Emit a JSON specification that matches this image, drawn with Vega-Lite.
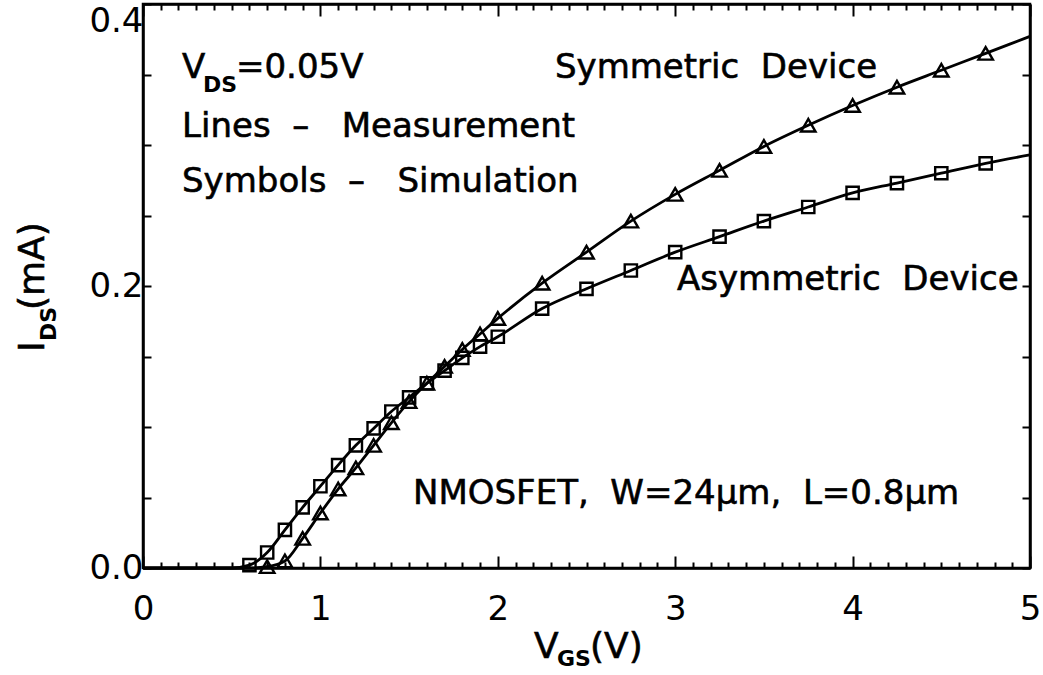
{
  "$schema": "https://vega.github.io/schema/vega-lite/v6.json",
  "width": 887,
  "height": 564,
  "autosize": {"type": "none"},
  "padding": {"left": 143, "top": 4, "right": 13, "bottom": 107},
  "background": "white",
  "config": {
    "view": {"stroke": "black", "strokeWidth": 2.5},
    "font": "DejaVu Sans",
    "text": {"font": "DejaVu Sans", "color": "black"}
  },
  "datasets": {
    "meas": [
      {"device": "Symmetric", "vgs": 0, "ids": 0},
      {"device": "Symmetric", "vgs": 0.5, "ids": 0},
      {"device": "Symmetric", "vgs": 0.6, "ids": 0},
      {"device": "Symmetric", "vgs": 0.7, "ids": 0.001},
      {"device": "Symmetric", "vgs": 0.8, "ids": 0.005},
      {"device": "Symmetric", "vgs": 0.9, "ids": 0.021},
      {"device": "Symmetric", "vgs": 1.0, "ids": 0.039},
      {"device": "Symmetric", "vgs": 1.1, "ids": 0.056},
      {"device": "Symmetric", "vgs": 1.2, "ids": 0.071},
      {"device": "Symmetric", "vgs": 1.3, "ids": 0.087},
      {"device": "Symmetric", "vgs": 1.4, "ids": 0.103},
      {"device": "Symmetric", "vgs": 1.5, "ids": 0.118},
      {"device": "Symmetric", "vgs": 1.6, "ids": 0.131},
      {"device": "Symmetric", "vgs": 1.7, "ids": 0.143},
      {"device": "Symmetric", "vgs": 1.8, "ids": 0.155},
      {"device": "Symmetric", "vgs": 1.9, "ids": 0.166},
      {"device": "Symmetric", "vgs": 2.0, "ids": 0.177},
      {"device": "Symmetric", "vgs": 2.25, "ids": 0.202},
      {"device": "Symmetric", "vgs": 2.5, "ids": 0.224},
      {"device": "Symmetric", "vgs": 2.75, "ids": 0.246},
      {"device": "Symmetric", "vgs": 3.0, "ids": 0.265},
      {"device": "Symmetric", "vgs": 3.25, "ids": 0.282},
      {"device": "Symmetric", "vgs": 3.5, "ids": 0.299},
      {"device": "Symmetric", "vgs": 3.75, "ids": 0.314},
      {"device": "Symmetric", "vgs": 4.0, "ids": 0.328},
      {"device": "Symmetric", "vgs": 4.25, "ids": 0.341},
      {"device": "Symmetric", "vgs": 4.5, "ids": 0.353},
      {"device": "Symmetric", "vgs": 4.75, "ids": 0.365},
      {"device": "Symmetric", "vgs": 5.0, "ids": 0.377},
      {"device": "Asymmetric", "vgs": 0, "ids": 0},
      {"device": "Asymmetric", "vgs": 0.5, "ids": 0},
      {"device": "Asymmetric", "vgs": 0.6, "ids": 0.002},
      {"device": "Asymmetric", "vgs": 0.7, "ids": 0.011},
      {"device": "Asymmetric", "vgs": 0.8, "ids": 0.027},
      {"device": "Asymmetric", "vgs": 0.9, "ids": 0.043},
      {"device": "Asymmetric", "vgs": 1.0, "ids": 0.058},
      {"device": "Asymmetric", "vgs": 1.1, "ids": 0.073},
      {"device": "Asymmetric", "vgs": 1.2, "ids": 0.087},
      {"device": "Asymmetric", "vgs": 1.3, "ids": 0.099},
      {"device": "Asymmetric", "vgs": 1.4, "ids": 0.111},
      {"device": "Asymmetric", "vgs": 1.5, "ids": 0.121},
      {"device": "Asymmetric", "vgs": 1.6, "ids": 0.131},
      {"device": "Asymmetric", "vgs": 1.7, "ids": 0.140},
      {"device": "Asymmetric", "vgs": 1.8, "ids": 0.149},
      {"device": "Asymmetric", "vgs": 1.9, "ids": 0.157},
      {"device": "Asymmetric", "vgs": 2.0, "ids": 0.164},
      {"device": "Asymmetric", "vgs": 2.25, "ids": 0.184},
      {"device": "Asymmetric", "vgs": 2.5, "ids": 0.198},
      {"device": "Asymmetric", "vgs": 2.75, "ids": 0.211},
      {"device": "Asymmetric", "vgs": 3.0, "ids": 0.224},
      {"device": "Asymmetric", "vgs": 3.25, "ids": 0.235},
      {"device": "Asymmetric", "vgs": 3.5, "ids": 0.246},
      {"device": "Asymmetric", "vgs": 3.75, "ids": 0.256},
      {"device": "Asymmetric", "vgs": 4.0, "ids": 0.266},
      {"device": "Asymmetric", "vgs": 4.25, "ids": 0.273},
      {"device": "Asymmetric", "vgs": 4.5, "ids": 0.280},
      {"device": "Asymmetric", "vgs": 4.75, "ids": 0.287},
      {"device": "Asymmetric", "vgs": 5.0, "ids": 0.293}
    ],
    "sim": [
      {"device": "Symmetric", "vgs": 0.7, "ids": 0.001},
      {"device": "Symmetric", "vgs": 0.8, "ids": 0.005},
      {"device": "Symmetric", "vgs": 0.9, "ids": 0.021},
      {"device": "Symmetric", "vgs": 1.0, "ids": 0.039},
      {"device": "Symmetric", "vgs": 1.1, "ids": 0.056},
      {"device": "Symmetric", "vgs": 1.2, "ids": 0.071},
      {"device": "Symmetric", "vgs": 1.3, "ids": 0.087},
      {"device": "Symmetric", "vgs": 1.4, "ids": 0.103},
      {"device": "Symmetric", "vgs": 1.5, "ids": 0.118},
      {"device": "Symmetric", "vgs": 1.6, "ids": 0.131},
      {"device": "Symmetric", "vgs": 1.7, "ids": 0.143},
      {"device": "Symmetric", "vgs": 1.8, "ids": 0.155},
      {"device": "Symmetric", "vgs": 1.9, "ids": 0.166},
      {"device": "Symmetric", "vgs": 2.0, "ids": 0.177},
      {"device": "Symmetric", "vgs": 2.25, "ids": 0.202},
      {"device": "Symmetric", "vgs": 2.5, "ids": 0.224},
      {"device": "Symmetric", "vgs": 2.75, "ids": 0.246},
      {"device": "Symmetric", "vgs": 3.0, "ids": 0.265},
      {"device": "Symmetric", "vgs": 3.25, "ids": 0.282},
      {"device": "Symmetric", "vgs": 3.5, "ids": 0.299},
      {"device": "Symmetric", "vgs": 3.75, "ids": 0.314},
      {"device": "Symmetric", "vgs": 4.0, "ids": 0.328},
      {"device": "Symmetric", "vgs": 4.25, "ids": 0.341},
      {"device": "Symmetric", "vgs": 4.5, "ids": 0.353},
      {"device": "Symmetric", "vgs": 4.75, "ids": 0.365},
      {"device": "Asymmetric", "vgs": 0.6, "ids": 0.002},
      {"device": "Asymmetric", "vgs": 0.7, "ids": 0.011},
      {"device": "Asymmetric", "vgs": 0.8, "ids": 0.027},
      {"device": "Asymmetric", "vgs": 0.9, "ids": 0.043},
      {"device": "Asymmetric", "vgs": 1.0, "ids": 0.058},
      {"device": "Asymmetric", "vgs": 1.1, "ids": 0.073},
      {"device": "Asymmetric", "vgs": 1.2, "ids": 0.087},
      {"device": "Asymmetric", "vgs": 1.3, "ids": 0.099},
      {"device": "Asymmetric", "vgs": 1.4, "ids": 0.111},
      {"device": "Asymmetric", "vgs": 1.5, "ids": 0.121},
      {"device": "Asymmetric", "vgs": 1.6, "ids": 0.131},
      {"device": "Asymmetric", "vgs": 1.7, "ids": 0.140},
      {"device": "Asymmetric", "vgs": 1.8, "ids": 0.149},
      {"device": "Asymmetric", "vgs": 1.9, "ids": 0.157},
      {"device": "Asymmetric", "vgs": 2.0, "ids": 0.164},
      {"device": "Asymmetric", "vgs": 2.25, "ids": 0.184},
      {"device": "Asymmetric", "vgs": 2.5, "ids": 0.198},
      {"device": "Asymmetric", "vgs": 2.75, "ids": 0.211},
      {"device": "Asymmetric", "vgs": 3.0, "ids": 0.224},
      {"device": "Asymmetric", "vgs": 3.25, "ids": 0.235},
      {"device": "Asymmetric", "vgs": 3.5, "ids": 0.246},
      {"device": "Asymmetric", "vgs": 3.75, "ids": 0.256},
      {"device": "Asymmetric", "vgs": 4.0, "ids": 0.266},
      {"device": "Asymmetric", "vgs": 4.25, "ids": 0.273},
      {"device": "Asymmetric", "vgs": 4.5, "ids": 0.280},
      {"device": "Asymmetric", "vgs": 4.75, "ids": 0.287}
    ],
    "notes": [
      {"x": 0.220, "y": 0.3475, "t": "V"},
      {"x": 0.524, "y": 0.3475, "t": "=0.05V"},
      {"x": 0.220, "y": 0.3057, "t": "Lines\u00a0\u00a0–\u00a0\u00a0\u00a0Measurement"},
      {"x": 0.220, "y": 0.2667, "t": "Symbols\u00a0\u00a0–\u00a0\u00a0\u00a0Simulation"},
      {"x": 2.322, "y": 0.3475, "t": "Symmetric\u00a0\u00a0Device"},
      {"x": 3.010, "y": 0.197, "t": "Asymmetric\u00a0\u00a0Device"},
      {"x": 1.522, "y": 0.0454, "t": "NMOSFET,\u00a0 W=24μm,\u00a0 L=0.8μm"}
    ],
    "subs": [
      {"x": 0.338, "y": 0.3376, "t": "DS"}
    ],
    "xtitle": [
      {"x": 2.204, "y": -0.0638, "t": "V"},
      {"x": 2.520, "y": -0.0638, "t": "(V)"}
    ],
    "xtitlesub": [
      {"x": 2.334, "y": -0.0695, "t": "GS"}
    ],
    "ytitle": [
      {"x": -0.558, "y": 0.1532, "t": "I"},
      {"x": -0.558, "y": 0.183, "t": "(mA)"}
    ],
    "ytitlesub": [
      {"x": -0.490, "y": 0.161, "t": "DS"}
    ]
  },
  "layer": [
    {
      "data": {"name": "meas"},
      "mark": {"type": "line", "color": "black", "strokeWidth": 2.8, "interpolate": "monotone"},
      "encoding": {
        "x": {
          "field": "vgs", "type": "quantitative",
          "scale": {"domain": [0, 5], "nice": false, "zero": false},
          "axis": {
            "orient": "bottom", "title": null, "grid": false,
            "values": [0,0.1,0.2,0.3,0.4,0.5,0.6,0.7,0.8,0.9,1,1.1,1.2,1.3,1.4,1.5,1.6,1.7,1.8,1.9,2,2.1,2.2,2.3,2.4,2.5,2.6,2.7,2.8,2.9,3,3.1,3.2,3.3,3.4,3.5,3.6,3.7,3.8,3.9,4,4.1,4.2,4.3,4.4,4.5,4.6,4.7,4.8,4.9,5],
            "labelExpr": "datum.value % 1 === 0 ? format(datum.value, 'd') : ''",
            "labelOverlap": false, "labelFlush": false,
            "labelFont": "DejaVu Sans", "labelFontSize": 34, "labelColor": "black",
            "labelPadding": 36,
            "tickSize": {"condition": {"test": "datum.value % 1 === 0", "value": -12}, "value": -6},
            "tickColor": "black", "tickWidth": 2,
            "domainColor": "black", "domainWidth": 2.5
          }
        },
        "y": {
          "field": "ids", "type": "quantitative",
          "scale": {"domain": [0, 0.4], "nice": false, "zero": false},
          "axis": {
            "orient": "left", "title": null, "grid": false,
            "values": [0,0.05,0.1,0.15,0.2,0.25,0.3,0.35,0.4],
            "labelExpr": "(datum.value === 0 || datum.value === 0.2 || datum.value === 0.4) ? format(datum.value, '.1f') : ''",
            "labelOverlap": false, "labelFlush": false,
            "labelFont": "DejaVu Sans", "labelFontSize": 34, "labelColor": "black",
            "labelPadding": 8,
            "labelBaseline": {"condition": {"test": "datum.value === 0.4", "value": "top"}, "value": "middle"},
            "tickSize": -8,
            "tickColor": "black", "tickWidth": 2,
            "domainColor": "black", "domainWidth": 2.5
          }
        },
        "detail": {"field": "device"}
      }
    },
    {
      "data": {"name": "sim"},
      "mark": {"type": "point", "filled": false, "stroke": "black", "strokeWidth": 2.4, "opacity": 1},
      "encoding": {
        "x": {
          "field": "vgs", "type": "quantitative",
          "scale": {"domain": [0, 5], "nice": false, "zero": false},
          "axis": {
            "orient": "top", "title": null, "grid": false, "labels": false,
            "values": [0,0.1,0.2,0.3,0.4,0.5,0.6,0.7,0.8,0.9,1,1.1,1.2,1.3,1.4,1.5,1.6,1.7,1.8,1.9,2,2.1,2.2,2.3,2.4,2.5,2.6,2.7,2.8,2.9,3,3.1,3.2,3.3,3.4,3.5,3.6,3.7,3.8,3.9,4,4.1,4.2,4.3,4.4,4.5,4.6,4.7,4.8,4.9,5],
            "tickSize": {"condition": {"test": "datum.value % 1 === 0", "value": -12}, "value": -6},
            "tickColor": "black", "tickWidth": 2,
            "domainColor": "black", "domainWidth": 2.5
          }
        },
        "y": {
          "field": "ids", "type": "quantitative",
          "scale": {"domain": [0, 0.4], "nice": false, "zero": false},
          "axis": {
            "orient": "right", "title": null, "grid": false, "labels": false,
            "values": [0,0.05,0.1,0.15,0.2,0.25,0.3,0.35,0.4],
            "tickSize": -8,
            "tickColor": "black", "tickWidth": 2,
            "domainColor": "black", "domainWidth": 2.5
          }
        },
        "shape": {
          "field": "device", "type": "nominal",
          "scale": {"domain": ["Symmetric", "Asymmetric"], "range": ["triangle-up", "square"]},
          "legend": null
        },
        "size": {
          "field": "device", "type": "nominal",
          "scale": {"domain": ["Symmetric", "Asymmetric"], "range": [210, 150]},
          "legend": null
        }
      }
    },
    {
      "data": {"name": "notes"},
      "mark": {"type": "text", "fontSize": 34, "align": "left", "baseline": "alphabetic", "font": "DejaVu Sans", "stroke": "black", "strokeWidth": 0.6},
      "encoding": {
        "x": {"field": "x", "type": "quantitative", "scale": {"domain": [0, 5], "nice": false, "zero": false}, "axis": null},
        "y": {"field": "y", "type": "quantitative", "scale": {"domain": [0, 0.4], "nice": false, "zero": false}, "axis": null},
        "text": {"field": "t"}
      }
    },
    {
      "data": {"name": "subs"},
      "mark": {"type": "text", "fontSize": 22, "align": "left", "baseline": "alphabetic", "font": "DejaVu Sans", "fontWeight": "bold"},
      "encoding": {
        "x": {"field": "x", "type": "quantitative", "scale": {"domain": [0, 5], "nice": false, "zero": false}, "axis": null},
        "y": {"field": "y", "type": "quantitative", "scale": {"domain": [0, 0.4], "nice": false, "zero": false}, "axis": null},
        "text": {"field": "t"}
      }
    },
    {
      "data": {"name": "xtitle"},
      "mark": {"type": "text", "fontSize": 36, "align": "left", "baseline": "alphabetic", "font": "DejaVu Sans", "stroke": "black", "strokeWidth": 0.6},
      "encoding": {
        "x": {"field": "x", "type": "quantitative", "scale": {"domain": [0, 5], "nice": false, "zero": false}, "axis": null},
        "y": {"field": "y", "type": "quantitative", "scale": {"domain": [0, 0.4], "nice": false, "zero": false}, "axis": null},
        "text": {"field": "t"}
      }
    },
    {
      "data": {"name": "xtitlesub"},
      "mark": {"type": "text", "fontSize": 22, "align": "left", "baseline": "alphabetic", "font": "DejaVu Sans", "fontWeight": "bold"},
      "encoding": {
        "x": {"field": "x", "type": "quantitative", "scale": {"domain": [0, 5], "nice": false, "zero": false}, "axis": null},
        "y": {"field": "y", "type": "quantitative", "scale": {"domain": [0, 0.4], "nice": false, "zero": false}, "axis": null},
        "text": {"field": "t"}
      }
    },
    {
      "data": {"name": "ytitle"},
      "mark": {"type": "text", "fontSize": 36, "align": "left", "baseline": "alphabetic", "angle": 270, "font": "DejaVu Sans", "stroke": "black", "strokeWidth": 0.6},
      "encoding": {
        "x": {"field": "x", "type": "quantitative", "scale": {"domain": [0, 5], "nice": false, "zero": false}, "axis": null},
        "y": {"field": "y", "type": "quantitative", "scale": {"domain": [0, 0.4], "nice": false, "zero": false}, "axis": null},
        "text": {"field": "t"}
      }
    },
    {
      "data": {"name": "ytitlesub"},
      "mark": {"type": "text", "fontSize": 22, "align": "left", "baseline": "alphabetic", "angle": 270, "font": "DejaVu Sans", "fontWeight": "bold"},
      "encoding": {
        "x": {"field": "x", "type": "quantitative", "scale": {"domain": [0, 5], "nice": false, "zero": false}, "axis": null},
        "y": {"field": "y", "type": "quantitative", "scale": {"domain": [0, 0.4], "nice": false, "zero": false}, "axis": null},
        "text": {"field": "t"}
      }
    }
  ],
  "resolve": {"axis": {"x": "independent", "y": "independent"}}
}
